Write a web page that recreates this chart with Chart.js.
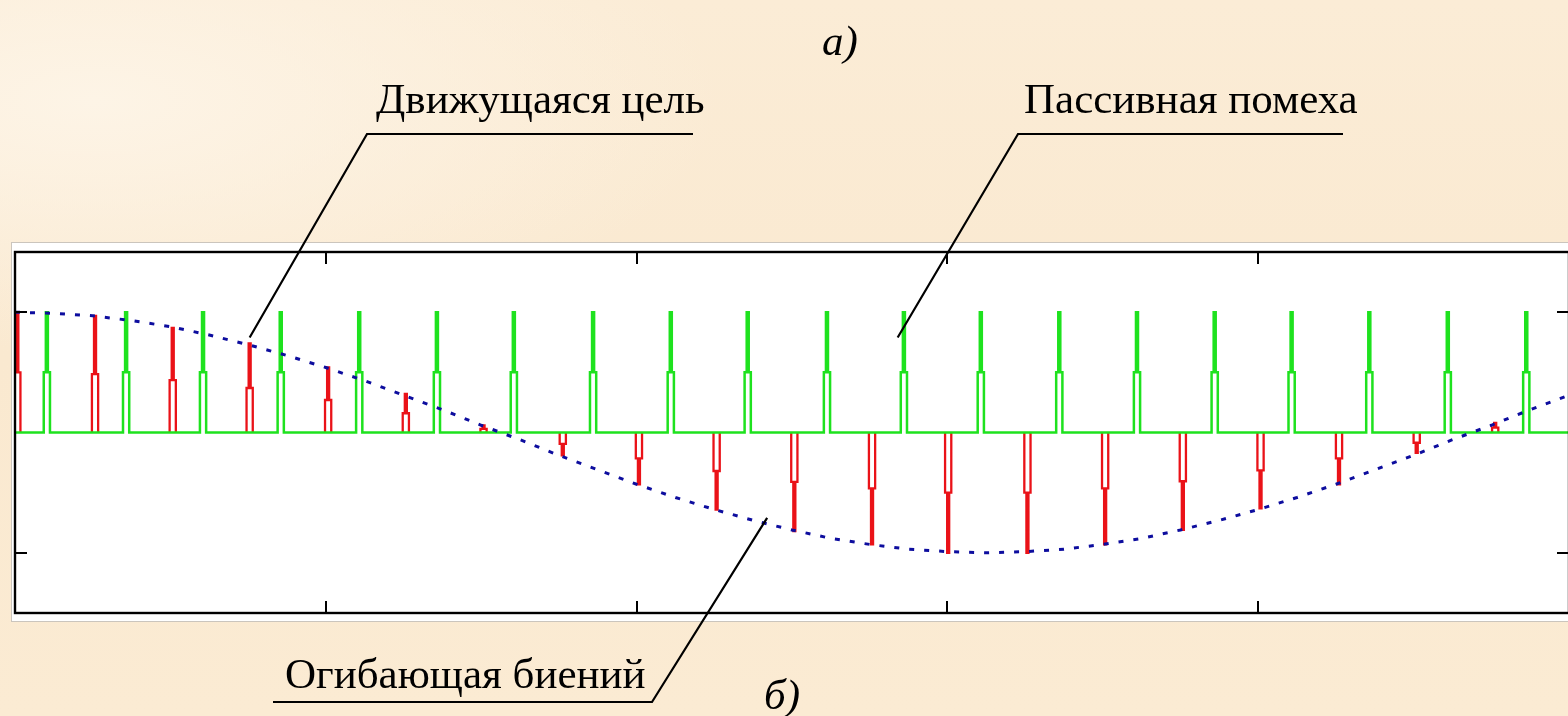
<!DOCTYPE html>
<html>
<head>
<meta charset="utf-8">
<script src="https://cdn.jsdelivr.net/npm/chart.js@4.4.1/dist/chart.umd.min.js"></script>
<style>
html,body{margin:0;padding:0;width:1568px;height:716px;overflow:hidden;}
body{position:relative;font-family:"Liberation Serif","Times New Roman",serif;
 background:radial-gradient(ellipse 40% 35% at 6% 14%, #fdf4e6 0%, rgba(253,244,230,0) 100%),
            linear-gradient(180deg,#fbecd6 0%,#fae9d0 50%,#fbebd3 100%);}
#wrap{position:absolute;left:0;top:0;width:1600px;height:716px;}
.lbl{position:absolute;white-space:nowrap;color:#000;font-size:43px;line-height:1;}
.it{font-style:italic;}
</style>
</head>
<body>
<div id="wrap"><canvas id="c" width="1600" height="716"></canvas></div>
<div class="lbl it" style="left:822px;top:19px">а)</div>
<div class="lbl" style="left:376px;top:77px">Движущаяся цель</div>
<div class="lbl" style="left:1024px;top:77px">Пассивная помеха</div>
<div class="lbl" style="left:285px;top:652px">Огибающая биений</div>
<div class="lbl it" style="left:764px;top:673px">б)</div>
<script>
// ---- data ----
const xTicks = [4, 8, 12, 16];
const yTicks = [-1, 1];
// passive clutter (green) pulse positions and amplitudes
const clutterPos = [0.41,1.43,2.42,3.42,4.43,5.43,6.42,7.44,8.44,9.43,10.45,11.44,12.43,13.44,14.44,15.44,16.43,17.43,18.44,19.45];
const clutterAmp = [1,1,1,1,1,1,1,1,1,1,1,1,1,1,1,1,1,1,1,1];
// moving target (red) pulse positions and amplitudes
const targetPos = [0.03,1.03,2.03,3.02,4.03,5.03,6.03,7.05,8.03,9.03,10.03,11.03,12.01,13.03,14.03,15.03,16.03,17.04,18.04,19.05];
const targetAmp = [1.00,0.97,0.87,0.74,0.54,0.32,0.06,-0.19,-0.43,-0.64,-0.82,-0.93,-1.00,-1.00,-0.93,-0.81,-0.63,-0.43,-0.17,0.08];
// beat envelope (blue dotted)
const envX = [0,0.5,1,1.5,2,2.5,3,3.5,4,4.5,5,5.5,6,6.5,7,7.5,8,8.5,9,9.5,10,10.5,11,11.5,12,12.5,13,13.5,14,14.5,15,15.5,16,16.5,17,17.5,18,18.5,19,19.5,20];
const envY = [1.00,0.99,0.97,0.93,0.88,0.81,0.73,0.64,0.54,0.43,0.31,0.19,0.06,-0.06,-0.19,-0.31,-0.43,-0.54,-0.64,-0.73,-0.81,-0.88,-0.93,-0.97,-0.99,-1.00,-0.99,-0.97,-0.93,-0.88,-0.81,-0.73,-0.64,-0.54,-0.43,-0.31,-0.19,-0.06,0.06,0.19,0.31];
const xRange = [0, 20];
const yRange = [-1.5, 1.5];

// ---- pulse shape builder (narrow upper half, wider lower half) ----
const W_OUT = 0.04, W_IN = 0.013;
function pulse(c, h){
  return [
    {x:c-W_OUT,y:0},{x:c-W_OUT,y:h/2},{x:c-W_IN,y:h/2},{x:c-W_IN,y:h},
    {x:c+W_IN,y:h},{x:c+W_IN,y:h/2},{x:c+W_OUT,y:h/2},{x:c+W_OUT,y:0}
  ];
}
const greenPts = [{x:xRange[0],y:0}];
clutterPos.forEach((c,i)=>{ greenPts.push(...pulse(c, clutterAmp[i])); });
greenPts.push({x:xRange[1],y:0});

const redPts = [];
targetPos.forEach((c,i)=>{ redPts.push(...pulse(c, targetAmp[i])); redPts.push({x:c+W_OUT,y:null}); });

const envPts = envX.map((x,i)=>({x, y:envY[i]}));

// leader lines: elbow/underline in page pixels, tip at a data point
const leaders = [
  {line:[[693,134],[367,134]], tip:[3.02,0.79]},
  {line:[[1343,134],[1018,134]], tip:[11.36,0.79]},
  {line:[[273,702],[652,702]], tip:[9.68,-0.71]}
];

const framePlugin = {
  id:'frame',
  beforeDraw(chart){
    const {ctx, chartArea:a} = chart;
    ctx.save();
    ctx.fillStyle = '#ffffff';
    ctx.fillRect(a.left-3, a.top-9, (a.right-a.left)+40, (a.bottom-a.top)+17);
    ctx.strokeStyle = '#cbc5bd'; ctx.lineWidth = 1;
    ctx.strokeRect(a.left-3.5, a.top-9.5, (a.right-a.left)+40, (a.bottom-a.top)+18);
    ctx.restore();
  },
  afterDraw(chart){
    const {ctx, chartArea:a, scales:{x, y}} = chart;
    ctx.save();
    ctx.strokeStyle = '#000'; ctx.lineWidth = 2.4;
    ctx.strokeRect(a.left, a.top, a.right-a.left, a.bottom-a.top);
    ctx.lineWidth = 2;
    ctx.beginPath();
    xTicks.forEach(v=>{ const p = Math.round(x.getPixelForValue(v));
      ctx.moveTo(p,a.top); ctx.lineTo(p,a.top+12); ctx.moveTo(p,a.bottom); ctx.lineTo(p,a.bottom-12); });
    yTicks.forEach(v=>{ const p = Math.round(y.getPixelForValue(v));
      ctx.moveTo(a.left,p); ctx.lineTo(a.left+12,p); ctx.moveTo(a.right,p); ctx.lineTo(a.right-12,p); });
    ctx.stroke();
    ctx.lineWidth = 2.2;
    leaders.forEach(L=>{
      ctx.beginPath();
      ctx.moveTo(L.line[0][0], L.line[0][1]);
      for (let i=1;i<L.line.length;i++) ctx.lineTo(L.line[i][0], L.line[i][1]);
      ctx.lineTo(x.getPixelForValue(L.tip[0]), y.getPixelForValue(L.tip[1]));
      ctx.stroke();
    });
    ctx.restore();
  }
};

new Chart(document.getElementById('c'), {
  type:'scatter',
  data:{datasets:[
    {label:'Огибающая биений', data:envPts, showLine:true, borderColor:'#0d0d9e', borderWidth:3,
     borderDash:[5,10], pointRadius:0, order:0, tension:0},
    {label:'Пассивная помеха', data:greenPts, showLine:true, borderColor:'#1ee21e', borderWidth:2.5,
     pointRadius:0, order:1, tension:0},
    {label:'Движущаяся цель', data:redPts, showLine:true, borderColor:'#ea1218', borderWidth:2.3,
     pointRadius:0, order:2, tension:0, spanGaps:false}
  ]},
  options:{
    responsive:false, animation:false, devicePixelRatio:1,
    layout:{padding:{left:15, top:252, right:31, bottom:103}},
    scales:{
      x:{type:'linear', min:xRange[0], max:xRange[1], display:false},
      y:{type:'linear', min:yRange[0], max:yRange[1], display:false}
    },
    plugins:{legend:{display:false}, tooltip:{enabled:false}, title:{display:false}},
    elements:{point:{radius:0}, line:{borderJoinStyle:'miter', borderCapStyle:'butt'}}
  },
  plugins:[framePlugin]
});
</script>
</body>
</html>
